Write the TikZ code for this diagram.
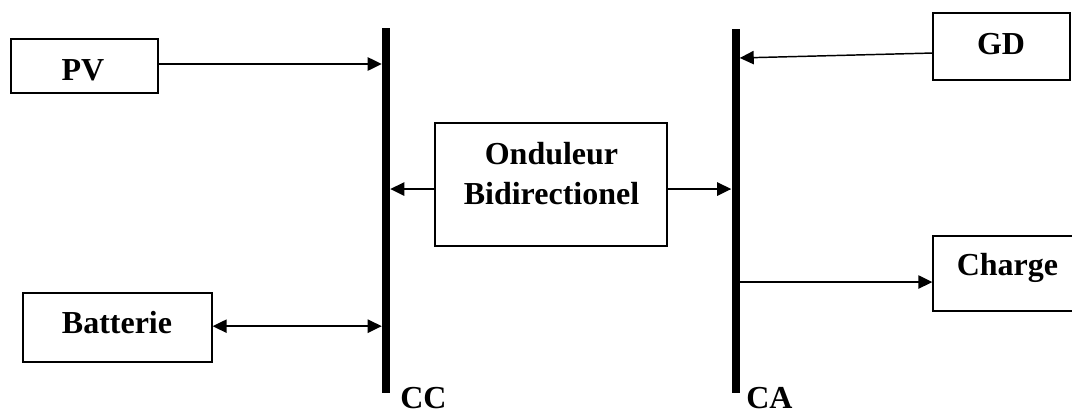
\documentclass[tikz,border=0pt]{standalone}
\usepackage{fontspec}
\setmainfont{Liberation Serif}
\usetikzlibrary{arrows.meta}
\begin{document}
\begin{tikzpicture}[x=0.75pt,y=-0.75pt,
  box/.style={draw,line width=1pt,inner sep=0pt},
  bus/.style={fill=black,inner sep=0pt,minimum width=6pt},
  lbl/.style={font=\bfseries\fontsize{24}{30}\selectfont,inner sep=0pt},
  flow/.style={line width=1.1pt,-{Triangle[length=10.5pt,width=10pt]}},
  dflow/.style={line width=1.1pt,{Triangle[length=10.5pt,width=10pt]}-{Triangle[length=10.5pt,width=10pt]}}]
\useasboundingbox (0,0) rectangle (1072,412);

% DC and AC buses
\node[bus,minimum height=273.75pt] (cc) at (386,210.5) {};
\node[bus,minimum height=273pt] (ca) at (735.5,211) {};
\node[lbl,anchor=base west] (cclab) at (400,408) {CC};
\node[lbl,anchor=base west] (calab) at (746,408) {CA};

% Sources, storage, converter and load
\node[box,minimum width=110.25pt,minimum height=40.5pt] (pv) at (84.5,66) {};
\node[lbl,anchor=base] (pvt) at (83,80) {PV};
\node[box,minimum width=102.75pt,minimum height=50.25pt] (gd) at (1001.5,46.5) {};
\node[lbl,anchor=base] (gdt) at (1001,54) {GD};
\node[box,minimum width=174pt,minimum height=92.25pt] (ond) at (551,184.5) {};
\node[lbl,align=center] (ondt) at (551.5,174) {Onduleur\\Bidirectionel};
\node[box,minimum width=141.75pt,minimum height=51.75pt] (bat) at (117.5,327.5) {};
\node[lbl,anchor=base] (batt) at (117,333) {Batterie};
\node[box,minimum width=117.75pt,minimum height=56.25pt] (chg) at (1011.5,273.5) {};
\node[lbl,anchor=base] (chgt) at (1007.5,275) {Charge};

% Power flows
\draw[flow] ([yshift=1.5pt]pv.east) -- ([yshift=1.5pt]pv.east -| cc.west);
\draw[flow] ([yshift=-4.9pt]gd.west) -- ([yshift=-8.6pt]gd.west -| ca.east);
\draw[flow] ([yshift=-3.4pt]ond.west) -- ([yshift=-3.4pt]ond.west -| cc.east);
\draw[flow] ([yshift=-3.4pt]ond.east) -- ([yshift=-3.4pt]ond.east -| ca.west);
\draw[dflow] ([yshift=1pt]bat.east) -- ([yshift=1pt]bat.east -| cc.west);
\draw[flow] ([yshift=-6.4pt]chg.west -| ca.east) -- ([yshift=-6.4pt]chg.west);
\end{tikzpicture}
\end{document}
